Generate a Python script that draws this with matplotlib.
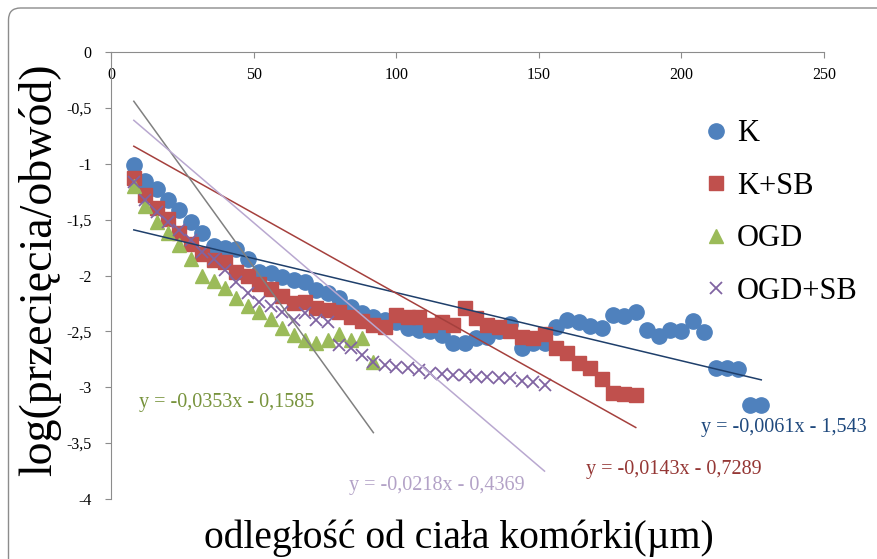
import numpy as np  # arrays
import matplotlib
matplotlib.use("Agg")  # sem display
import matplotlib.pyplot as plt  # plot
from matplotlib.patches import FancyBboxPatch  # moldura arredondada
from matplotlib.ticker import FuncFormatter  # vírgula decimal

# distância do corpo celular (µm), passo de 4 µm
x_k = np.arange(8, 229, 4)
x_ksb = np.arange(8, 185, 4)
x_ogd = np.arange(8, 93, 4)
x_ogdsb = np.arange(8, 153, 4)

# log(cruzamentos/perímetro)
y_k = [-1.01, -1.15, -1.23, -1.32, -1.41, -1.52, -1.62, -1.74, -1.75, -1.76,
       -1.85, -1.97, -1.98, -2.01, -2.04, -2.06, -2.13, -2.16, -2.20, -2.28,
       -2.34, -2.37, -2.40, -2.42, -2.47, -2.49, -2.50, -2.53, -2.60, -2.60,
       -2.56, -2.55, -2.50, -2.43, -2.65, -2.60, -2.60, -2.46, -2.40, -2.42,
       -2.45, -2.47, -2.35, -2.36, -2.33, -2.49, -2.54, -2.49, -2.50, -2.41,
       -2.51, -2.83, -2.83, -2.84, -3.16, -3.16]
y_ksb = [-1.13, -1.28, -1.40, -1.49, -1.62, -1.72, -1.81, -1.86, -1.88, -1.97,
         -2.00, -2.08, -2.12, -2.18, -2.25, -2.24, -2.29, -2.31, -2.33, -2.37,
         -2.41, -2.44, -2.46, -2.35, -2.37, -2.37, -2.44, -2.42, -2.44, -2.29,
         -2.38, -2.44, -2.46, -2.50, -2.55, -2.56, -2.52, -2.65, -2.69, -2.78,
         -2.83, -2.93, -3.05, -3.06, -3.07]
y_ogd = [-1.20, -1.38, -1.52, -1.62, -1.73, -1.85, -2.00, -2.05, -2.11, -2.20,
         -2.27, -2.33, -2.39, -2.47, -2.53, -2.58, -2.60, -2.58, -2.52, -2.58,
         -2.56, -2.77]
y_ogdsb = [-1.16, -1.32, -1.43, -1.52, -1.59, -1.68, -1.79, -1.85, -1.95, -2.06,
           -2.16, -2.24, -2.27, -2.33, -2.40, -2.34, -2.40, -2.42, -2.62, -2.65,
           -2.71, -2.77, -2.80, -2.82, -2.83, -2.85, -2.87, -2.88, -2.89, -2.89,
           -2.91, -2.91, -2.92, -2.92, -2.94, -2.95, -2.98]

# linhas de tendência: (inclinação, intercepto)
trend_k = (-0.0061, -1.543)
trend_ksb = (-0.0143, -0.7289)
trend_ogd = (-0.0353, -0.1585)
trend_ogdsb = (-0.0218, -0.4369)

nomes = ["K", "K+SB", "OGD", "OGD+SB"]

plt.rcParams["font.family"] = ["Liberation Serif", "DejaVu Serif"]

fig = plt.figure(figsize=(8.77, 5.59), dpi=100)
ax = fig.add_axes([111 / 877, 1 - 499 / 559, 713 / 877, 447 / 559])

# moldura do gráfico
moldura = FancyBboxPatch((0.085, -0.4), 9.2, 5.51 + 0.4,
                         boxstyle="round,pad=0,rounding_size=0.12",
                         transform=fig.dpi_scale_trans, fill=False,
                         edgecolor="#8c8c8c", linewidth=1.0)
fig.patches.append(moldura)

ax.plot(x_k, y_k, "o", color="#4f81bd", ms=11, mec="#4f81bd", label=nomes[0], zorder=3)
ax.plot(x_ksb, y_ksb, "s", color="#c0504d", ms=9.5, mec="#c0504d", label=nomes[1], zorder=3)
ax.plot(x_ogd, y_ogd, "^", color="#9bbb59", ms=10, mec="#9bbb59", label=nomes[2], zorder=3)
ax.plot(x_ogdsb, y_ogdsb, "x", color="#8064a2", ms=8, mew=1.3, label=nomes[3], zorder=3)

# tendências sobre o intervalo de cada série
for xs, (a, b), cor in [(x_k, trend_k, "#1f3f6b"), (x_ksb, trend_ksb, "#a5403d"),
                        (x_ogd, trend_ogd, "#808080"), (x_ogdsb, trend_ogdsb, "#b9a8d0")]:
    xx = np.array([xs[0], xs[-1]], dtype=float)
    ax.plot(xx, a * xx + b, color=cor, lw=1.1, zorder=4)

def equacao(a, b):
    return ("y = %sx - %s" % (str(a).replace(".", ","), str(-b).replace(".", ",")))

ax.text(40.7, -3.14, equacao(*trend_ogd), color="#77933c", fontsize=14.5, ha="center", va="center")
ax.text(114.3, -3.88, equacao(*trend_ogdsb), color="#b3a2c7", fontsize=14.5, ha="center", va="center")
ax.text(197.4, -3.74, equacao(*trend_ksb), color="#953735", fontsize=14.5, ha="center", va="center")
ax.text(236, -3.36, equacao(*trend_k), color="#1f497d", fontsize=14.5, ha="center", va="center")

ax.set_xlim(0, 250)
ax.set_ylim(-4, 0)
ax.set_xticks(np.arange(0, 251, 50))
ax.set_yticks(np.arange(-4, 0.01, 0.5))
ax.yaxis.set_major_formatter(FuncFormatter(lambda v, p: ("%g" % v).replace(".", ",")))

# eixo x passa em y = 0 (topo)
ax.spines["bottom"].set_position(("data", 0))
ax.spines["top"].set_visible(False)
ax.spines["right"].set_visible(False)
for s in ["bottom", "left"]:
    ax.spines[s].set_color("#8c8c8c")
ax.tick_params(axis="x", length=4, color="#8c8c8c", labelsize=11.5, pad=7)
ax.tick_params(axis="y", length=4, color="#8c8c8c", labelsize=11.5, pad=10)

leg = fig.legend(loc="upper left", bbox_to_anchor=(685 / 877, 1 - 107 / 559),
                 frameon=False, fontsize=22, handletextpad=0.1, labelspacing=0.77,
                 handlelength=1.2, borderaxespad=0)

fig.text(459 / 877, 1 - 538 / 559, "odległość od ciała komórki(µm)", fontsize=28.5,
         ha="center", va="center")
fig.text(40 / 877, 1 - 270 / 559, "log(przecięcia/obwód)", fontsize=33,
         ha="center", va="center", rotation=90)

fig.savefig("out.png", dpi=100)
